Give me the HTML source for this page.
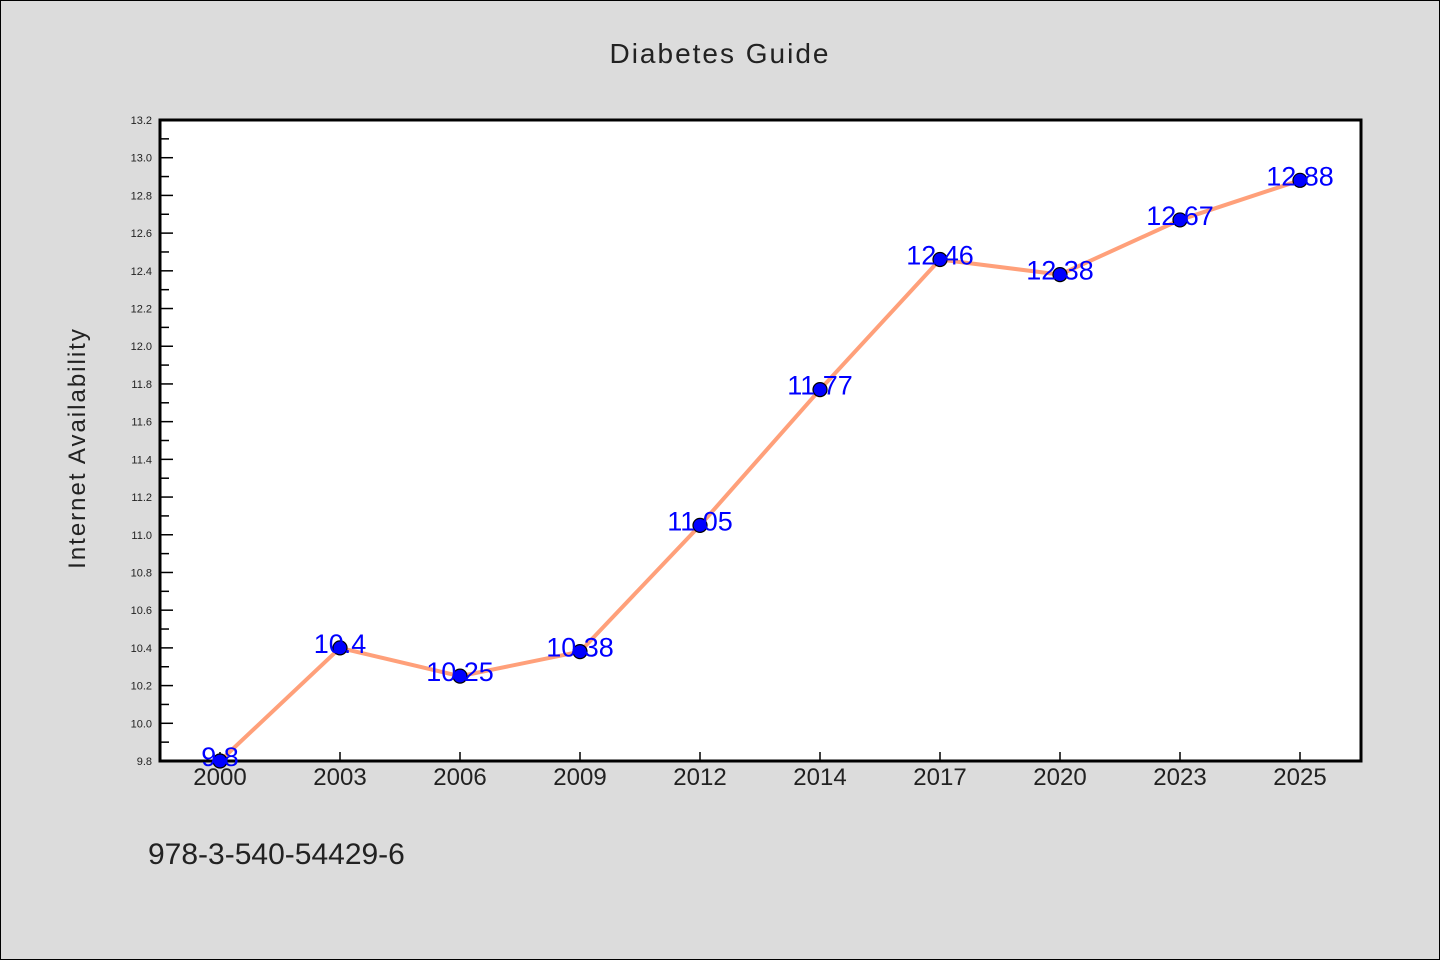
<!DOCTYPE html>
<html><head><meta charset="utf-8"><style>
body{margin:0;background:#dcdcdc;}
svg{display:block;font-family:"WenQuanYi Zen Hei","Liberation Sans",sans-serif;}
</style></head><body>
<svg width="1440" height="960">
<rect x="0.5" y="0.5" width="1439" height="959" fill="#dcdcdc" stroke="#000"/>
<text x="720" y="63" text-anchor="middle" font-size="28" fill="#222" letter-spacing="2">Diabetes Guide</text>
<text transform="translate(85,448) rotate(-90)" text-anchor="middle" font-size="24" fill="#222" letter-spacing="2">Internet Availability</text>
<text x="148" y="864" font-size="30" fill="#222">978-3-540-54429-6</text>
<rect x="160" y="120" width="1201" height="641" fill="#fff"/>
<g id="ticks"></g>
<g id="series"></g>
<rect x="160" y="120" width="1201" height="641" fill="none" stroke="#000" stroke-width="3"/>
<g id="labels"></g>
</svg>
<script>
const categories=["2000","2003","2006","2009","2012","2014","2017","2020","2023","2025"];
const values=[9.8,10.4,10.25,10.38,11.05,11.77,12.46,12.38,12.67,12.88];
const valueLabels=["9.8","10.4","10.25","10.38","11.05","11.77","12.46","12.38","12.67","12.88"];
const yTicks=[9.8,10.0,10.2,10.4,10.6,10.8,11.0,11.2,11.4,11.6,11.8,12.0,12.2,12.4,12.6,12.8,13.0,13.2];
const yMin=9.8,yMax=13.2;
const NS="http://www.w3.org/2000/svg";
function x(i){return 220+i*120;}
function y(v){return 761-(v-yMin)/(yMax-yMin)*641;}
function mk(t,a,p){const e=document.createElementNS(NS,t);for(const k in a)e.setAttribute(k,a[k]);p.appendChild(e);return e;}
const tg=document.getElementById('ticks');
yTicks.forEach((v,i)=>{
 const l=mk('line',{x1:160,x2:173,y1:y(v),y2:y(v),stroke:'#000','stroke-width':1.5},tg);
 
 
 if(i<yTicks.length-1){const m=mk('line',{x1:160,x2:169,y1:y(v+0.1),y2:y(v+0.1),stroke:'#000','stroke-width':1.5},tg);
 
 }
 const t=mk('text',{x:152,y:y(v)+4,'text-anchor':'end','font-size':11,fill:'#222'},tg);t.textContent=v.toFixed(1);
 
 
});
categories.forEach((c,i)=>{
 const l=mk('line',{x1:x(i),x2:x(i),y1:761,y2:752,stroke:'#000','stroke-width':1.5},tg);
 
 
 const t=mk('text',{x:x(i),y:785,'text-anchor':'middle','font-size':24,fill:'#222'},tg);t.textContent=c;
 
 
});
const sg=document.getElementById('series');
const pl=mk('polyline',{points:values.map((v,i)=>x(i)+','+y(v)).join(' '),fill:'none',stroke:'#ffa07a','stroke-width':4},sg);


const lg=document.getElementById('labels');
values.forEach((v,i)=>{
 const c=mk('circle',{cx:x(i),cy:y(v),r:7,fill:'#0000ff',stroke:'#000','stroke-width':1.2},lg);
 
 
 const t=mk('text',{x:x(i),y:y(v)+5,'text-anchor':'middle','font-size':27,fill:'#0000ff'},lg);t.textContent=valueLabels[i];
 
 
});
</script>
</body></html>
